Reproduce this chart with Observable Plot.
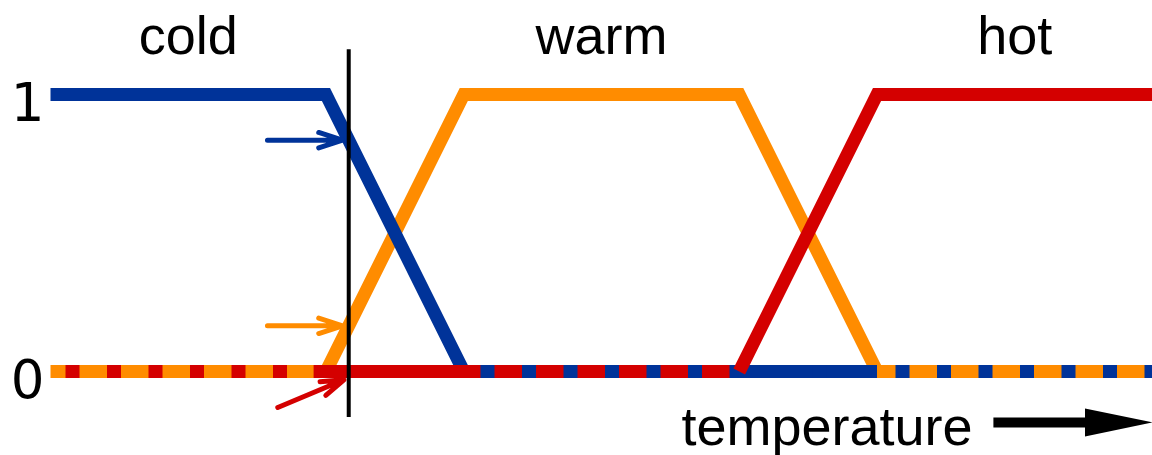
<!DOCTYPE html>
<html>
<head>
<meta charset="utf-8">
<script src="https://cdn.jsdelivr.net/npm/d3@7"></script>
<script src="https://cdn.jsdelivr.net/npm/@observablehq/plot@0.6"></script>
<style>
  html, body { margin: 0; padding: 0; background: #fff; }
  #chart svg { display: block; }
</style>
</head>
<body>
<div id="chart"></div>
<script>
// ---- data ----
const categories = ["cold", "warm", "hot"];
const categoryCenter = [10, 40, 70];
const colors = ["#003399", "#ff8c00", "#d40000"];

// membership functions (breakpoints on the temperature axis)
const coldX = [0, 20, 30, 80];
const coldY = [1, 1, 0, 0];
const warmX = [0, 20, 30, 50, 60, 80];
const warmY = [0, 0, 1, 1, 0, 0];
const hotX = [0, 50, 60, 80];
const hotY = [0, 0, 1, 1];

// crisp input and its membership degrees (cold, warm, hot)
const crispInput = 21.65;
const membership = [0.835, 0.165, 0];

const yTicks = [0, 1];
const axisTitle = "temperature";

// ---- layout ----
const W = 1152, H = 455;
const mL = 50, mR = 0, mT = 94, mB = 84;
const xDomain = [0, 80];
const xs = d3.scaleLinear(xDomain, [mL, W - mR]);

const pts = (X, Y) => X.map((x, i) => ({x, y: Y[i]}));
const cold = pts(coldX, coldY);
const warm = pts(warmX, warmY);
const hot = pts(hotX, hotY);

const SW = 13;
const dash = "14 27.5";
const period = 41.5;
const phase = 65;
const offsetAt = (v) => (((xs(v) - phase) % period) + period) % period;

const base = {x: "x", y: "y", strokeWidth: SW, strokeLinecap: "butt", strokeLinejoin: "miter", strokeMiterlimit: 10};

// segments built from the membership arrays
const coldSlope = cold.slice(0, 3);                     // 1 → 0
const coldZeroSolid = [{x: coldX[2], y: 0}, {x: warmX[4], y: 0}];
const coldZeroDashed = [{x: coldX[2], y: 0}, {x: coldX[3], y: 0}];
const hotZeroSolid = [{x: 19.1, y: 0}, {x: hotX[1], y: 0}];
const hotZeroDashed = [{x: hotX[0], y: 0}, {x: 19.1, y: 0}];
const hotRise = hot.slice(1);

const arrows = [
  {x1: 15.75, y1: membership[0], x2: 21.2, y2: membership[0], c: colors[0]},
  {x1: 15.75, y1: membership[1], x2: 21.2, y2: membership[1], c: colors[1]},
  {x1: 16.5, y1: membership[2] - 0.13, x2: 21.3, y2: membership[2] - 0.03, c: colors[2]}
];

const tArrowY = -0.184;
const shaft = [{x: 68.45, y: tArrowY}, {x: 76, y: tArrowY}];
const head = [{x: 75.1, y: -0.134}, {x: 80, y: tArrowY}, {x: 75.1, y: -0.235}];

const chart = Plot.plot({
  width: W,
  height: H,
  marginLeft: mL,
  marginRight: mR,
  marginTop: mT,
  marginBottom: mB,
  style: {fontFamily: "'Liberation Sans', Arial, sans-serif", background: "#fff"},
  x: {domain: xDomain, axis: null},
  y: {domain: [0, 1], axis: null},
  color: {type: "identity"},
  marks: [
    Plot.axisY(yTicks, {
      tickSize: 0, tickPadding: 6, fontSize: 53, dy: 10,
      fontFamily: "'DejaVu Sans', sans-serif", tickFormat: (d) => String(d), fill: "#000"
    }),
    Plot.line(warm, {...base, stroke: colors[1]}),
    Plot.line(coldSlope, {...base, stroke: colors[0]}),
    Plot.line(coldZeroSolid, {...base, stroke: colors[0]}),
    Plot.line(hotZeroSolid, {...base, stroke: colors[2]}),
    Plot.line(hotZeroDashed, {...base, stroke: colors[2], strokeDasharray: dash, strokeDashoffset: offsetAt(hotX[0])}),
    Plot.line(coldZeroDashed, {...base, stroke: colors[0], strokeDasharray: dash, strokeDashoffset: offsetAt(coldX[2])}),
    Plot.line(hotRise, {...base, stroke: colors[2]}),
    Plot.ruleX([crispInput], {y1: -0.166, y2: 1.162, stroke: "#000", strokeWidth: 4}),
    Plot.arrow(arrows, {x1: "x1", y1: "y1", x2: "x2", y2: "y2", stroke: "c", strokeWidth: 5, headLength: 30, headAngle: 36}),
    Plot.text(categories, {x: (d, i) => categoryCenter[i], y: () => 1.148, text: (d) => d, fontSize: 54, lineAnchor: "bottom", fill: "#000"}),
    Plot.text([axisTitle], {x: () => 56.37, y: () => -0.267, text: (d) => d, fontSize: 54, lineAnchor: "bottom", fill: "#000"}),
    Plot.line(shaft, {x: "x", y: "y", stroke: "#000", strokeWidth: 10, strokeLinecap: "butt"}),
    Plot.line(head, {x: "x", y: "y", fill: "#000", stroke: "none"})
  ]
});
document.getElementById("chart").appendChild(chart);
</script>
</body>
</html>
